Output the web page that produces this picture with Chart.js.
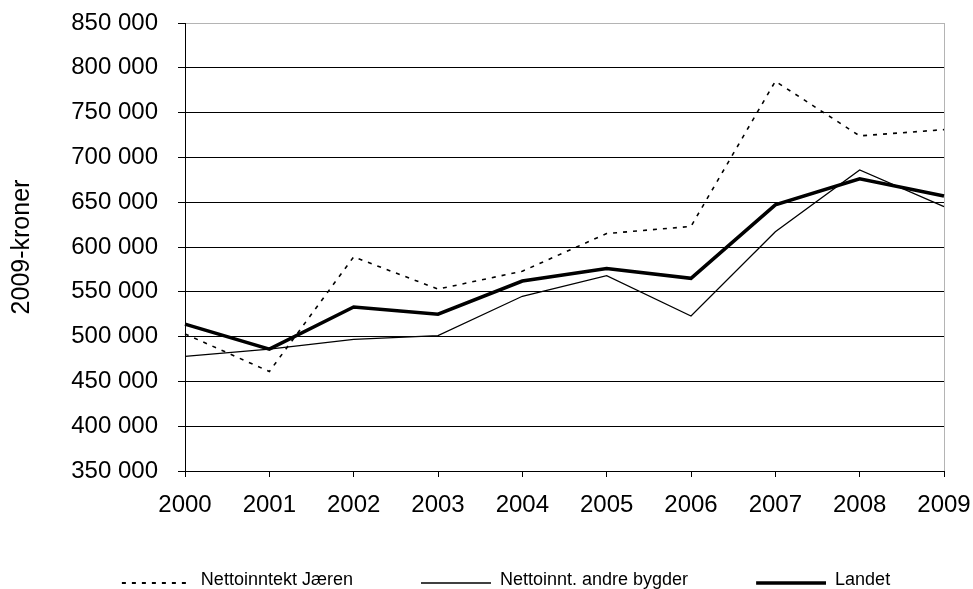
<!DOCTYPE html>
<html>
<head>
<meta charset="utf-8">
<script src="https://cdn.jsdelivr.net/npm/chart.js@4/dist/chart.umd.min.js"></script>
<style>
  html, body { margin: 0; padding: 0; background: #fff; overflow: hidden; }
  canvas { display: block; }
</style>
</head>
<body>
<canvas id="chart" width="973" height="599"></canvas>
<script>
const years = ['2000', '2001', '2002', '2003', '2004', '2005', '2006', '2007', '2008', '2009'];
const jaeren = [503000, 461000, 589000, 553000, 573000, 615000, 623000, 785000, 724000, 731000];
const andreBygder = [478000, 486000, 497000, 501000, 545000, 568000, 523000, 617000, 686000, 645000];
const landet = [514000, 486000, 533000, 525000, 562000, 576000, 565000, 647000, 676000, 657000];
const yMin = 350000;
const yMax = 850000;
const yStep = 50000;
const yTitle = '2009-kroner';

const fontFamily = "'Liberation Sans', Arial, sans-serif";
const formatKr = v => Math.round(v).toString().replace(/\B(?=(\d{3})+(?!\d))/g, ' ');

// legend sample: blank lead-in, then a 70px line segment
const legendGap = 17;
const legendLine = 70;
function lineSample(width, dash) {
  const c = document.createElement('canvas');
  c.width = legendGap + legendLine;
  c.height = 20;
  const g = c.getContext('2d');
  g.strokeStyle = '#000';
  g.lineWidth = width;
  g.setLineDash(dash);
  g.beginPath();
  g.moveTo(legendGap, 13);
  g.lineTo(legendGap + legendLine, 13);
  g.stroke();
  return c;
}

new Chart(document.getElementById('chart'), {
  type: 'line',
  data: {
    labels: years,
    datasets: [
      { label: 'Nettoinntekt Jæren', data: jaeren, borderColor: '#000', backgroundColor: '#000', borderWidth: 1.6, borderDash: [4, 6], pointStyle: lineSample(1.8, [4, 6]) },
      { label: 'Nettoinnt. andre bygder', data: andreBygder, borderColor: '#000', backgroundColor: '#000', borderWidth: 1.3, pointStyle: lineSample(1.3, []) },
      { label: 'Landet', data: landet, borderColor: '#000', backgroundColor: '#000', borderWidth: 3.5, pointStyle: lineSample(3.5, []) }
    ]
  },
  options: {
    responsive: false,
    animation: false,
    devicePixelRatio: 1,
    layout: { padding: { top: 23, left: 22, right: 0, bottom: 0 } },
    elements: { line: { tension: 0 }, point: { radius: 0, hoverRadius: 0 } },
    plugins: {
      tooltip: { enabled: false },
      legend: {
        position: 'bottom',
        labels: {
          usePointStyle: true,
          pointStyleWidth: legendGap + legendLine,
          padding: 51,
          color: '#000',
          font: { family: fontFamily, size: 18 }
        }
      }
    },
    scales: {
      x: {
        offset: false,
        border: { color: '#000', width: 1 },
        grid: {
          drawOnChartArea: true,
          color: c => c.index === years.length - 1 ? '#b4b4b4' : 'rgba(0,0,0,0)',
          tickColor: '#000',
          tickLength: 6
        },
        ticks: { color: '#000', padding: 14, maxRotation: 0, autoSkip: false, font: { family: fontFamily, size: 24 } },
        afterFit: s => { s.height = 49; s.paddingRight = 29; }
      },
      y: {
        min: yMin,
        max: yMax,
        border: { color: '#000', width: 1 },
        grid: {
          color: c => c.tick && c.tick.value === yMax ? '#b4b4b4' : '#000',
          tickColor: '#000',
          tickLength: 7
        },
        ticks: { stepSize: yStep, color: '#000', padding: 20, font: { family: fontFamily, size: 24 }, callback: v => formatKr(v) },
        title: { display: true, text: yTitle, color: '#000', padding: { top: -14.5, bottom: 0 }, font: { family: fontFamily, size: 25 } },
        afterFit: s => { s.width = 163; s.paddingTop = 0; s.paddingBottom = 0; }
      }
    }
  }
});
</script>
</body>
</html>
